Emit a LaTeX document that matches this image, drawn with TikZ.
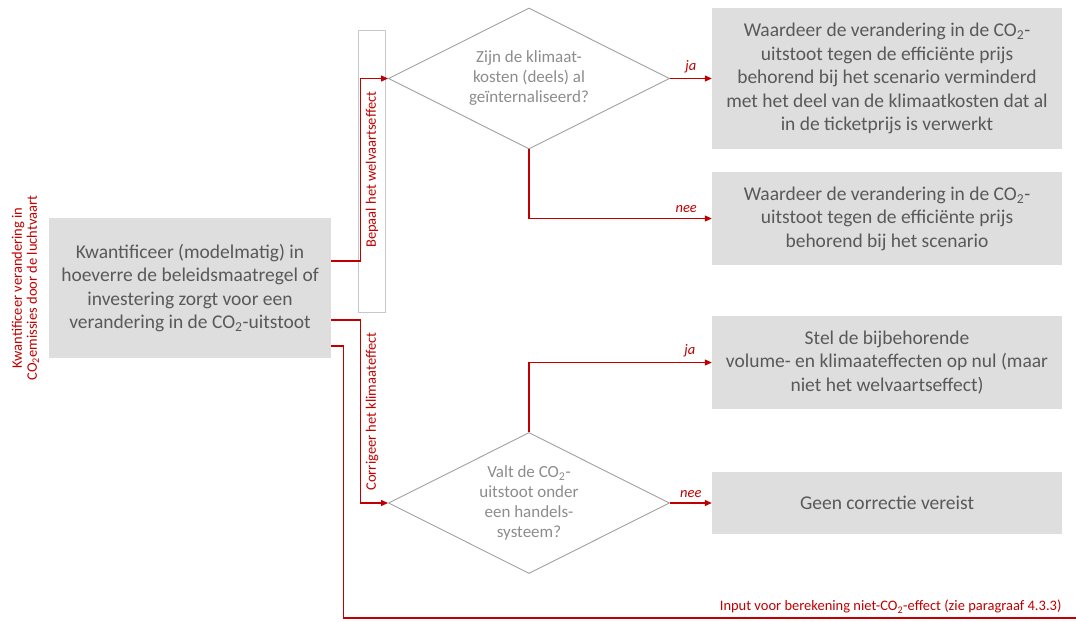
\documentclass[tikz,border=0pt]{standalone}
\usepackage{fontspec}
\setmainfont{Carlito}
\usetikzlibrary{shapes.geometric,arrows.meta}
\definecolor{boxgray}{HTML}{DEDEDE}
\definecolor{txtgray}{HTML}{595959}
\definecolor{qgray}{HTML}{8C8C8C}
\definecolor{linegray}{HTML}{A0A0A0}
\definecolor{stripgray}{HTML}{C8C8C8}
\definecolor{darkred}{HTML}{C00000}

\begin{document}
\begin{tikzpicture}[x=1pt,y=-1pt,
    flow/.style={draw=darkred, line width=1.2pt, -{Triangle[length=7pt,width=6pt]}},
    lbl/.style={text=darkred, font=\fontsize{14.5}{15}\selectfont, inner sep=2pt},
    yesno/.style={lbl, font=\fontsize{14.5}{15}\selectfont\itshape, inner ysep=5pt}]

      \useasboundingbox (0,0) rectangle (1076,621);

      \node[draw=stripgray, line width=0.8pt, minimum width=27pt, minimum height=282pt, inner sep=0pt] (s) at (371.5,171) {};

      \begin{scope}[every node/.style={rectangle, fill=boxgray, text=txtgray, align=center, inner sep=0pt,
          font=\fontsize{19.5}{23.5}\selectfont, minimum width=350pt}]
        \node[minimum width=282pt, minimum height=140pt] (1) at (190,288)
          {Kwantificeer (modelmatig) in\\hoeverre de beleidsmaatregel of\\investering zorgt voor een\\verandering in de CO\textsubscript{2}-uitstoot};
        \node[minimum height=141pt] (4) at (887,78.5)
          {Waardeer de verandering in de CO\textsubscript{2}-\\uitstoot tegen de efficiënte prijs\\behorend bij het scenario verminderd\\met het deel van de klimaatkosten dat al\\in de ticketprijs is verwerkt};
        \node[minimum height=93pt] (5) at (887,218.5)
          {Waardeer de verandering in de CO\textsubscript{2}-\\uitstoot tegen de efficiënte prijs\\behorend bij het scenario};
        \node[minimum height=93pt] (6) at (887,362.5)
          {Stel de bijbehorende\\volume- en klimaateffecten op nul (maar\\niet het welvaartseffect)};
        \node[minimum height=62pt] (7) at (887,503) {Geen correctie vereist};
      \end{scope}

      \begin{scope}[every node/.style={diamond, aspect=2, draw=linegray, line width=0.9pt, text=qgray, align=center, inner sep=0pt,
          minimum width=281pt, minimum height=141pt, font=\fontsize{17}{20}\selectfont}]
        \node (2) at (529,78.5) {Zijn de klimaat-\\kosten (deels) al\\geïnternaliseerd?};
        \node (3) at (529,503) {Valt de CO\textsubscript{2}-\\uitstoot onder\\een handels-\\systeem?};
      \end{scope}

      \node[lbl, rotate=90, align=center] (8) at (25.5,288)
        {Kwantificeer verandering in\\CO\textsubscript{2}emissies door de luchtvaart};
      \coordinate (9) at (1076,618);

      \draw[flow] ([yshift=27pt]1.east) -- ++(29,0)
        |- node[lbl, rotate=90, anchor=north, inner ysep=5pt, pos=0.25] {Bepaal het welvaartseffect} (2.west);
      \draw[flow] ([yshift=-32pt]1.east) -- ++(29,0)
        |- node[lbl, rotate=90, anchor=north, inner ysep=5pt, pos=0.25] {Corrigeer het klimaateffect} (3.west);
      \draw[draw=darkred, line width=1.2pt] ([yshift=-58pt]1.east) -- ++(12,0) |- (9)
        node[lbl, above left, xshift=-12pt, inner ysep=4pt] {Input voor berekening niet-CO\textsubscript{2}-effect (zie paragraaf 4.3.3)};

      \draw[flow] (2.east)  -- node[yesno, above] {ja} (4.west);
      \draw[flow] (2.south) |- node[yesno, above, pos=0.93] {nee} (5.west);
      \draw[flow] (3.north) |- node[yesno, above, pos=0.94] {ja} (6.west);
      \draw[flow] (3.east)  -- node[yesno, above] {nee} (7.west);

    \end{tikzpicture}
\end{document}
